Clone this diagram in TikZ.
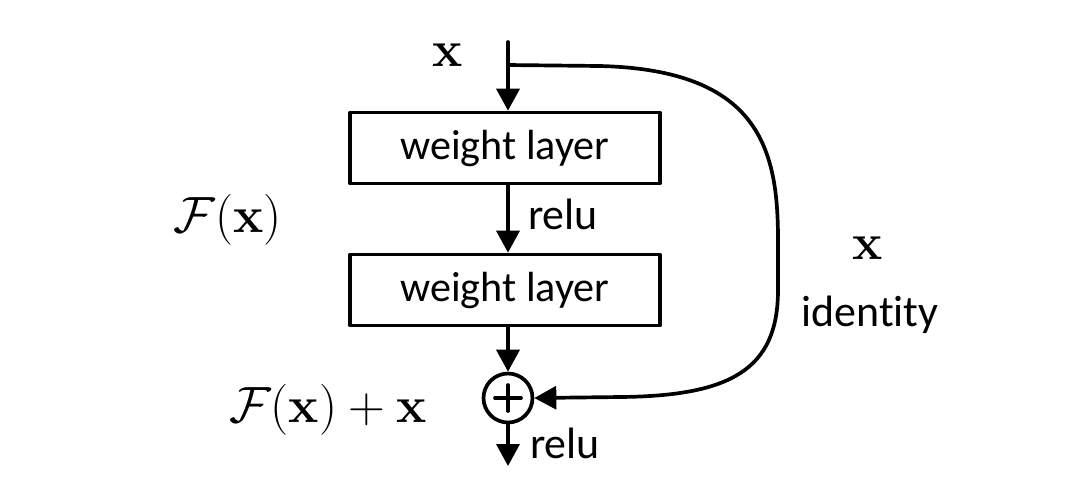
\RequirePackage{fix-cm}
\documentclass[tikz,border=0pt]{standalone}
\usepackage{amssymb,amsmath}
\usepackage[no-math]{fontspec}
\newfontfamily\calibri[Ligatures=NoCommon]{Carlito}
\usetikzlibrary{arrows.meta}
\usetikzlibrary{calc}

\tikzset{
  layerbox/.style={draw, line width=2.1pt, minimum width=6.2cm, minimum height=1.42cm, inner sep=0pt, font=\calibri\fontsize{24}{29}\selectfont},
  txt/.style={font=\calibri\fontsize{25}{30}\selectfont, inner sep=0pt},
  mth/.style={font=\fontsize{29}{34}\selectfont, inner sep=0pt},
  conn/.style={->, line width=2.1pt}
}

\begin{document}
\begin{tikzpicture}[line cap=round,line join=round,>={Triangle[length=0.44cm,width=0.46cm]},x=0.02cm,y=-0.02cm]
        \useasboundingbox (0,0) rectangle (1082,485);
        \coordinate (top) at (508,42);
        \coordinate (split) at (508,65);
        \coordinate (bottom) at (508,466);
        \node[layerbox] (wl1) at (505,148) {weight layer};
        \node[layerbox] (wl2) at (505,290) {weight layer};
        \node[draw,circle,line width=2.1pt,minimum size=0.98cm,inner sep=0pt] (add) at (508,398) {};
        \draw[line width=2.1pt] ($(add.center)+(-13,0)$) -- ($(add.center)+(13,0)$);
        \draw[line width=2.1pt] ($(add.center)+(0,-13)$) -- ($(add.center)+(0,13)$);
        % main path
        \draw[conn] (top) -- (wl1.north -| top);
        \draw[conn] (wl1.south -| top) -- (wl2.north -| top);
        \draw[conn] (wl2.south -| top) -- (add.north);
        \draw[conn] (add.south) -- (bottom);
        % shortcut
        \draw[conn] (split) -- (600,66) .. controls (760,70) and (778,150) .. (778,240)
            -- (778,290) .. controls (778,370) and (730,396) .. (620,397) -- (add.east);
        % labels
        \node[mth] (xin) at (448,55) {$\mathbf{x}$};
        \node[txt] (relu1) at (563,214) {relu};
        \node[txt] (relu2) at (565,443) {relu};
        \node[mth] (fx) at (228,220) {$\mathcal{F}(\mathbf{x})$};
        \node[mth] (fxx) at (328,410) {$\mathcal{F}(\mathbf{x})+\mathbf{x}$};
        \node[mth] (xid) at (868,248) {$\mathbf{x}$};
        \node[txt] (ident) at (870,315) {identity};
\end{tikzpicture}
\end{document}
